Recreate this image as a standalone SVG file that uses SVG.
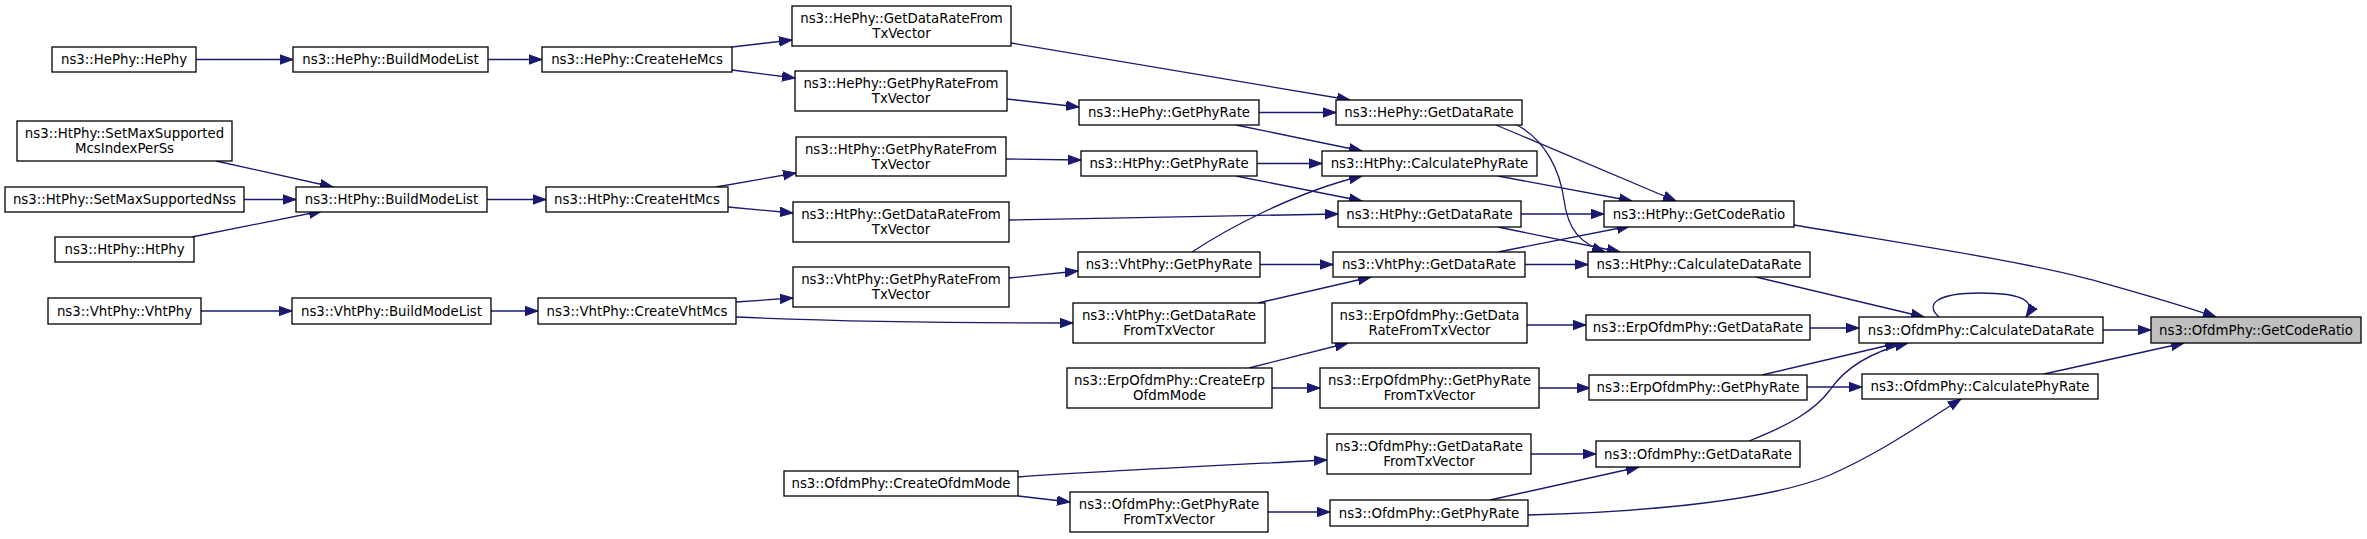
<svg xmlns="http://www.w3.org/2000/svg" width="2367" height="539" viewBox="0 0 2367 539">
<style>
.n rect{fill:#fff;stroke:#000;stroke-width:1.3}
.n.root rect{fill:#bfbfbf}
.n text{font-family:"DejaVu Sans","Liberation Sans",sans-serif;font-size:13.33px;fill:#000;text-anchor:middle}
.e path{fill:none;stroke:#191970;stroke-width:1.3;marker-end:url(#ah)}
</style>
<defs>
<marker id="ah" markerUnits="userSpaceOnUse" markerWidth="14" markerHeight="11" refX="13" refY="5.5" orient="auto">
<path d="M0,0.8 L13,5.5 L0,10.2 z" fill="#191970" stroke="#191970" stroke-width="1"/>
</marker>
</defs>
<rect width="2367" height="539" fill="#fff"/>
<g id="edges" class="e">
<path d="M196,59.5 L293,59.5"/>
<path d="M488,59.5 L542,59.5"/>
<path d="M732,47 L792,40"/>
<path d="M732,70 L795,78"/>
<path d="M1011,43 L1350,100"/>
<path d="M1007,99 L1079,107"/>
<path d="M1259,112.5 L1336,112.5"/>
<path d="M1236,125 L1362,151"/>
<path d="M1496,125 L1676,201"/>
<path d="M1517,125 C1545,140 1560,170 1564,200 C1568,230 1580,243 1605,252"/>
<path d="M216,161 L333,187"/>
<path d="M244,199.5 L296,199.5"/>
<path d="M192,237 L322,211"/>
<path d="M487,199.5 L546,199.5"/>
<path d="M716,187 L796,173"/>
<path d="M728,207 L793,213"/>
<path d="M1006,159 L1081,160"/>
<path d="M1257,163.5 L1322,163.5"/>
<path d="M1236,176 L1362,201"/>
<path d="M1009,220 L1338,214"/>
<path d="M1498,176 L1632,201"/>
<path d="M1521,214 L1604,214"/>
<path d="M1498,227 L1620,252"/>
<path d="M1192,252 C1225,230 1295,192 1362,176"/>
<path d="M1260,264.5 L1333,264.5"/>
<path d="M1498,252 L1630,226"/>
<path d="M1525,264.5 L1588,264.5"/>
<path d="M1258,303 L1371,277"/>
<path d="M201,311 L292,311"/>
<path d="M491,311 L538,311"/>
<path d="M736,302 L793,298"/>
<path d="M736,317 C850,322 950,323 1073,323"/>
<path d="M1009,278 L1078,271"/>
<path d="M1794,225 C1900,243 2030,262 2100,282 C2150,296 2190,308 2216,317"/>
<path d="M1756,277 L1924,317"/>
<path d="M1939,317 C1925,305 1935,293 1980,293 C2025,293 2036,302 2026,317"/>
<path d="M2103,330 L2151,330"/>
<path d="M2044,374 L2184,343"/>
<path d="M1810,328 L1859,328"/>
<path d="M1762,375 L1898,343"/>
<path d="M1807,387 L1862,387"/>
<path d="M1749,441 C1790,425 1815,410 1830,390 C1845,368 1870,352 1908,343"/>
<path d="M1528,515 C1650,512 1770,500 1830,475 C1880,453 1920,425 1961,399"/>
<path d="M1490,500 L1639,467"/>
<path d="M1527,325 L1586,325"/>
<path d="M1539,388 L1590,388"/>
<path d="M1249,368 L1348,343"/>
<path d="M1272,388 L1320,388"/>
<path d="M1018,477 C1120,470 1230,465 1327,460"/>
<path d="M1018,496 L1070,502"/>
<path d="M1531,454 L1596,454"/>
<path d="M1268,512 L1330,512"/>
</g>
<g id="n_hephy_hephy" class="n"><rect x="52" y="47" width="144" height="25"/><text x="124" y="64.2">ns3::HePhy::HePhy</text></g>
<g id="n_htphy_setmaxmcs" class="n"><rect x="17" y="121" width="215" height="40"/><text x="124.5" y="138.2">ns3::HtPhy::SetMaxSupported</text><text x="124.5" y="153.2">McsIndexPerSs</text></g>
<g id="n_htphy_setmaxnss" class="n"><rect x="5" y="187" width="239" height="25"/><text x="124.5" y="204.2">ns3::HtPhy::SetMaxSupportedNss</text></g>
<g id="n_htphy_htphy" class="n"><rect x="55" y="237" width="139" height="25"/><text x="124.5" y="254.2">ns3::HtPhy::HtPhy</text></g>
<g id="n_vhtphy_vhtphy" class="n"><rect x="48" y="298" width="153" height="26"/><text x="124.5" y="315.7">ns3::VhtPhy::VhtPhy</text></g>
<g id="n_hephy_build" class="n"><rect x="293" y="47" width="195" height="25"/><text x="390.5" y="64.2">ns3::HePhy::BuildModeList</text></g>
<g id="n_htphy_build" class="n"><rect x="296" y="187" width="191" height="25"/><text x="391.5" y="204.2">ns3::HtPhy::BuildModeList</text></g>
<g id="n_vhtphy_build" class="n"><rect x="292" y="298" width="199" height="26"/><text x="391.5" y="315.7">ns3::VhtPhy::BuildModeList</text></g>
<g id="n_hephy_createhemcs" class="n"><rect x="542" y="47" width="190" height="25"/><text x="637" y="64.2">ns3::HePhy::CreateHeMcs</text></g>
<g id="n_htphy_createhtmcs" class="n"><rect x="546" y="187" width="182" height="25"/><text x="637" y="204.2">ns3::HtPhy::CreateHtMcs</text></g>
<g id="n_vhtphy_createvhtmcs" class="n"><rect x="538" y="298" width="198" height="26"/><text x="637" y="315.7">ns3::VhtPhy::CreateVhtMcs</text></g>
<g id="n_hephy_gdrftv" class="n"><rect x="792" y="6" width="219" height="40"/><text x="901.5" y="23.2">ns3::HePhy::GetDataRateFrom</text><text x="901.5" y="38.2">TxVector</text></g>
<g id="n_hephy_gprftv" class="n"><rect x="795" y="71" width="212" height="40"/><text x="901" y="88.2">ns3::HePhy::GetPhyRateFrom</text><text x="901" y="103.2">TxVector</text></g>
<g id="n_htphy_gprftv" class="n"><rect x="796" y="137" width="210" height="39"/><text x="901" y="153.7">ns3::HtPhy::GetPhyRateFrom</text><text x="901" y="168.7">TxVector</text></g>
<g id="n_htphy_gdrftv" class="n"><rect x="793" y="202" width="216" height="40"/><text x="901" y="219.2">ns3::HtPhy::GetDataRateFrom</text><text x="901" y="234.2">TxVector</text></g>
<g id="n_vhtphy_gprftv" class="n"><rect x="793" y="267" width="216" height="40"/><text x="901" y="284.2">ns3::VhtPhy::GetPhyRateFrom</text><text x="901" y="299.2">TxVector</text></g>
<g id="n_ofdmphy_createofdmmode" class="n"><rect x="784" y="471" width="234" height="25"/><text x="901" y="488.2">ns3::OfdmPhy::CreateOfdmMode</text></g>
<g id="n_hephy_getphyrate" class="n"><rect x="1079" y="100" width="180" height="25"/><text x="1169" y="117.2">ns3::HePhy::GetPhyRate</text></g>
<g id="n_htphy_getphyrate" class="n"><rect x="1081" y="151" width="176" height="25"/><text x="1169" y="168.2">ns3::HtPhy::GetPhyRate</text></g>
<g id="n_vhtphy_getphyrate" class="n"><rect x="1078" y="252" width="182" height="25"/><text x="1169" y="269.2">ns3::VhtPhy::GetPhyRate</text></g>
<g id="n_vhtphy_gdrftv" class="n"><rect x="1073" y="303" width="192" height="40"/><text x="1169" y="320.2">ns3::VhtPhy::GetDataRate</text><text x="1169" y="335.2">FromTxVector</text></g>
<g id="n_erp_createerpofdmmode" class="n"><rect x="1067" y="368" width="205" height="40"/><text x="1169.5" y="385.2">ns3::ErpOfdmPhy::CreateErp</text><text x="1169.5" y="400.2">OfdmMode</text></g>
<g id="n_ofdmphy_gprftv" class="n"><rect x="1070" y="492" width="198" height="40"/><text x="1169" y="509.2">ns3::OfdmPhy::GetPhyRate</text><text x="1169" y="524.2">FromTxVector</text></g>
<g id="n_hephy_getdatarate" class="n"><rect x="1336" y="100" width="186" height="25"/><text x="1429" y="117.2">ns3::HePhy::GetDataRate</text></g>
<g id="n_htphy_calcphyrate" class="n"><rect x="1322" y="151" width="215" height="25"/><text x="1429.5" y="168.2">ns3::HtPhy::CalculatePhyRate</text></g>
<g id="n_htphy_getdatarate" class="n"><rect x="1338" y="201" width="183" height="26"/><text x="1429.5" y="218.7">ns3::HtPhy::GetDataRate</text></g>
<g id="n_vhtphy_getdatarate" class="n"><rect x="1333" y="252" width="192" height="25"/><text x="1429" y="269.2">ns3::VhtPhy::GetDataRate</text></g>
<g id="n_erp_gdrftv" class="n"><rect x="1332" y="303" width="195" height="40"/><text x="1429.5" y="320.2">ns3::ErpOfdmPhy::GetData</text><text x="1429.5" y="335.2">RateFromTxVector</text></g>
<g id="n_erp_gprftv" class="n"><rect x="1320" y="368" width="219" height="40"/><text x="1429.5" y="385.2">ns3::ErpOfdmPhy::GetPhyRate</text><text x="1429.5" y="400.2">FromTxVector</text></g>
<g id="n_ofdmphy_gdrftv" class="n"><rect x="1327" y="434" width="204" height="40"/><text x="1429" y="451.2">ns3::OfdmPhy::GetDataRate</text><text x="1429" y="466.2">FromTxVector</text></g>
<g id="n_ofdmphy_getphyrate" class="n"><rect x="1330" y="500" width="198" height="26"/><text x="1429" y="517.7">ns3::OfdmPhy::GetPhyRate</text></g>
<g id="n_htphy_getcoderatio" class="n"><rect x="1604" y="201" width="190" height="26"/><text x="1699" y="218.7">ns3::HtPhy::GetCodeRatio</text></g>
<g id="n_htphy_calcdatarate" class="n"><rect x="1588" y="252" width="222" height="25"/><text x="1699" y="269.2">ns3::HtPhy::CalculateDataRate</text></g>
<g id="n_erp_getdatarate" class="n"><rect x="1586" y="315" width="224" height="25"/><text x="1698" y="332.2">ns3::ErpOfdmPhy::GetDataRate</text></g>
<g id="n_erp_getphyrate" class="n"><rect x="1589" y="375" width="218" height="25"/><text x="1698" y="392.2">ns3::ErpOfdmPhy::GetPhyRate</text></g>
<g id="n_ofdmphy_getdatarate" class="n"><rect x="1596" y="441" width="204" height="26"/><text x="1698" y="458.7">ns3::OfdmPhy::GetDataRate</text></g>
<g id="n_ofdmphy_calcdatarate" class="n"><rect x="1859" y="317" width="244" height="26"/><text x="1981" y="334.7">ns3::OfdmPhy::CalculateDataRate</text></g>
<g id="n_ofdmphy_calcphyrate" class="n"><rect x="1862" y="374" width="236" height="25"/><text x="1980" y="391.2">ns3::OfdmPhy::CalculatePhyRate</text></g>
<g id="n_ofdmphy_getcoderatio" class="n root"><rect x="2151" y="317" width="210" height="26"/><text x="2256" y="334.7">ns3::OfdmPhy::GetCodeRatio</text></g>
</svg>
